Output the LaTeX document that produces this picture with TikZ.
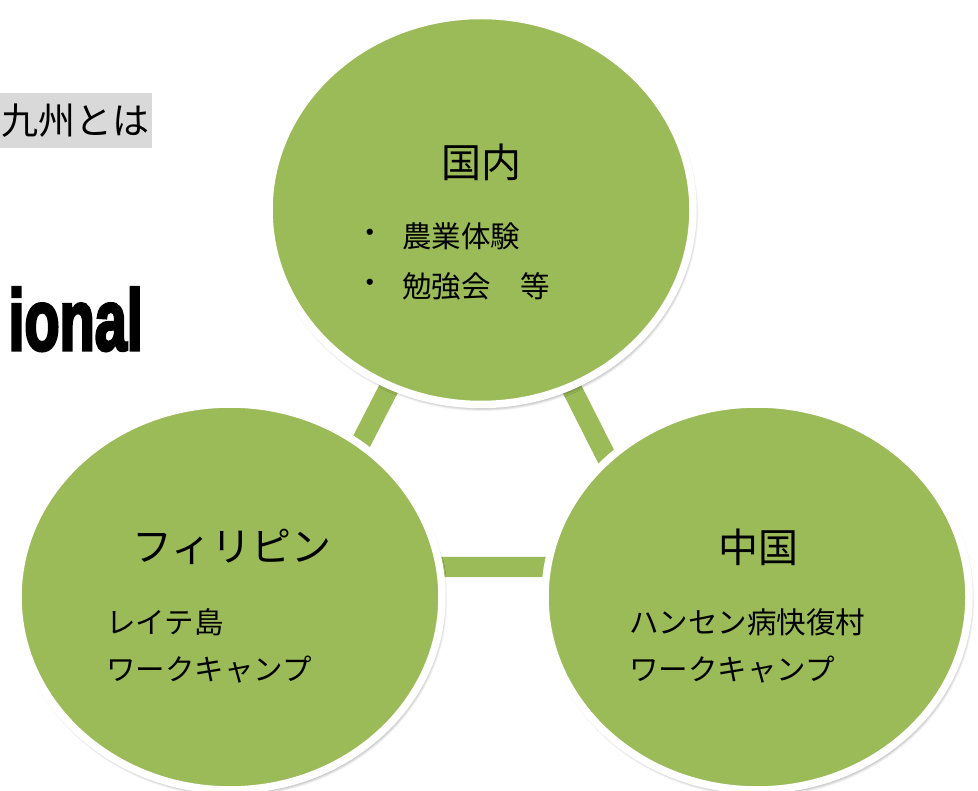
\documentclass[tikz,border=0pt]{standalone}
\usepackage{fontspec}
\newfontfamily\cjk{Noto Sans CJK JP}
\newfontfamily\heavy{Liberation Sans}[BoldFeatures={FakeBold=4}]
\usetikzlibrary{shapes.geometric,shadows.blur}
\definecolor{leafgreen}{HTML}{9BBB59}
\definecolor{labelgray}{HTML}{D9D9D9}
\begin{document}
\begin{tikzpicture}[x=1pt,y=-1pt,
  bubble/.style={ellipse, fill=leafgreen, draw=white, line width=7.5pt,
    minimum width=424pt, minimum height=386pt, inner sep=0pt,
    blur shadow={shadow xshift=1.5pt, shadow yshift=-3pt, shadow blur radius=4pt, shadow blur steps=8, shadow opacity=55}},
  bar/.style={draw=leafgreen, line width=20pt},
  title/.style={font=\cjk\fontsize{40}{44}\selectfont, inner sep=0pt, text=black},
  body/.style={font=\cjk\fontsize{29.5}{33}\selectfont, inner sep=0pt, anchor=west, text=black}]
\useasboundingbox (0,0) rectangle (978,791);
\begin{scope}
\clip (0,0) rectangle (978,791);
% background fragments
\node[fill=labelgray, minimum width=152pt, minimum height=55pt, inner sep=0pt, anchor=north west] (graybox) at (0,93) {};
\node[font=\cjk\fontsize{37}{41}\selectfont, anchor=west, inner sep=0pt] (kyushu) at (1,121) {九州とは};
\node[font=\heavy\bfseries\fontsize{86}{90}\selectfont, anchor=base east, inner sep=0pt, xscale=0.67, transform shape] (ional) at (143,350) {ional};
% connector bars
\coordinate (ta) at (481,209);
\coordinate (tl) at (297,567);
\coordinate (tr) at (662,567);
\draw[bar] (ta) -- (tl) -- (tr) -- cycle;
% circles
\node[bubble, minimum width=424pt, minimum height=389pt] (top) at (481,210) {};
\node[bubble] (left) at (230,597) {};
\node[bubble] (right) at (757,597) {};
\end{scope}
% texts
\node[title] (t1) at (481,162) {国内};
\node[font=\cjk\fontsize{29.5}{33}\selectfont, inner sep=0pt] (b1) at (370,236) {・};
\node[body] (l1) at (402,236) {農業体験};
\node[font=\cjk\fontsize{29.5}{33}\selectfont, inner sep=0pt] (b2) at (370,286) {・};
\node[body] (l2) at (402,286) {勉強会　等};
\node[title] (t2) at (232,547) {フィリピン};
\node[body] (l3) at (106,622) {レイテ島};
\node[body] (l4) at (106,670) {ワークキャンプ};
\node[title] (t3) at (758,547) {中国};
\node[body] (l5) at (629,622) {ハンセン病快復村};
\node[body] (l6) at (629,670) {ワークキャンプ};
\end{tikzpicture}
\end{document}
